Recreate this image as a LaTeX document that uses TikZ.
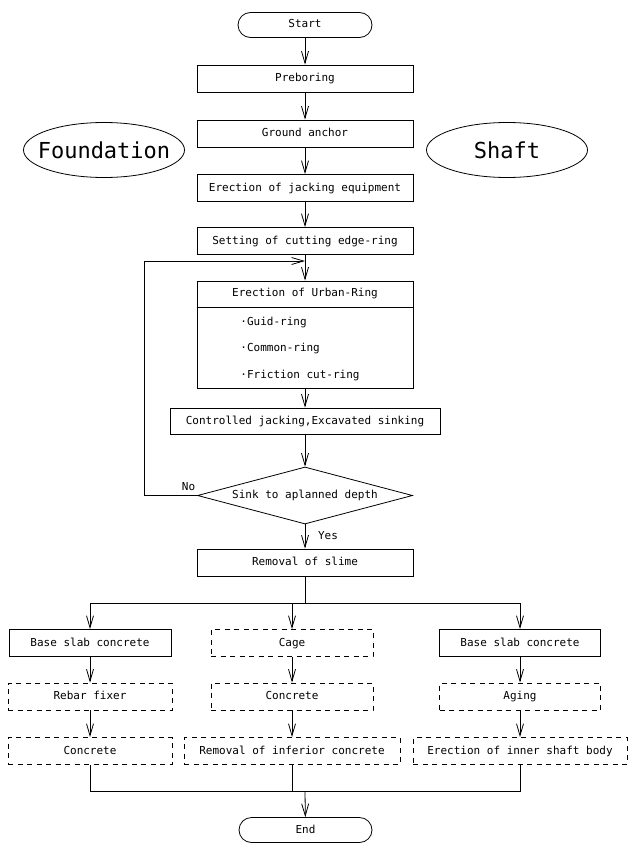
\documentclass[tikz,border=0pt]{standalone}
\usepackage{fontspec}
\setmainfont{DejaVu Sans Mono}
\usetikzlibrary{shapes.geometric,arrows.meta}
\begin{document}
\begin{tikzpicture}[x=1pt,y=-1pt, font=\fontsize{11}{13}\selectfont, line width=0.8pt,
 box/.style={draw, rectangle, minimum height=27pt, inner sep=0pt, text height=8pt, text depth=2pt},
 dbox/.style={box, dash pattern=on 5pt off 4.5pt},
 term/.style={draw, rectangle, rounded corners=12.5pt, minimum width=134pt, minimum height=25pt, inner sep=0pt, text height=8pt, text depth=2pt},
 arr/.style={-{Straight Barb[length=12pt,width=7pt]}},
 oval/.style={draw, ellipse, minimum width=161pt, minimum height=55pt, inner sep=0pt, font=\fontsize{22}{26}\selectfont},
 lbl/.style={inner sep=0pt}]
\useasboundingbox (0,0) rectangle (628,843);
% main column
\node[term] (start) at (305,25) {Start};
\node[box, minimum width=216pt] (pre) at (305,78.5) {Preboring};
\node[box, minimum width=216pt] (ga) at (305,133.5) {Ground anchor};
\node[box, minimum width=216pt] (ej) at (305,188) {Erection of jacking equipment};
\node[box, minimum width=216pt] (sc) at (305,241) {Setting of cutting edge-ring};
\node[draw, rectangle, minimum width=216pt, minimum height=107pt, inner sep=0pt] (ur) at (305,334.5) {};
\node[lbl] (urt) at (305,294) {Erection of Urban-Ring};
\draw (ur.west |- 0,307) -- (ur.east |- 0,307);
\node[lbl, anchor=west] (i1) at (240,322) {·Guid-ring};
\node[lbl, anchor=west] (i2) at (240,348) {·Common-ring};
\node[lbl, anchor=west] (i3) at (240,375) {·Friction cut-ring};
\node[box, minimum width=270pt, minimum height=26pt] (cj) at (305,421) {Controlled jacking,Excavated sinking};
\node[draw, diamond, aspect=3.77, minimum width=215pt, minimum height=57pt, inner sep=0pt] (dia) at (305,495.5) {Sink to aplanned depth};
\node[lbl] (no) at (188.5,487) {No};
\node[lbl] (yes) at (328,536) {Yes};
\node[box, minimum width=216pt] (rem) at (305,562.5) {Removal of slime};
% side ovals
\node[oval] (fo) at (104,150) {\makebox[0pt]{Foundation}};
\node[oval] (sh) at (507,150) {\makebox[0pt]{Shaft}};
% branches
\node[box, minimum width=162pt] (L1) at (90,643) {Base slab concrete};
\node[dbox, minimum width=162pt] (C1) at (292,643) {Cage};
\node[box, minimum width=161pt] (R1) at (520,643) {Base slab concrete};
\node[dbox, minimum width=164pt] (L2) at (90,696.5) {Rebar fixer};
\node[dbox, minimum width=162pt] (C2) at (292,696.5) {Concrete};
\node[dbox, minimum width=161pt] (R2) at (520,696.5) {Aging};
\node[dbox, minimum width=164pt] (L3) at (90,751) {Concrete};
\node[dbox, minimum width=216pt] (C3) at (292,751) {Removal of inferior concrete};
\node[dbox, minimum width=214pt] (R3) at (520,751) {Erection of inner shaft body};
\node[term, minimum width=133pt] (end) at (305.5,830) {End};
% coordinates
\coordinate (lp) at (305,261);
\coordinate (lc) at (144,261);
\coordinate (b0) at (305,603);
\coordinate (bL) at (90,603);
\coordinate (bC) at (292,603);
\coordinate (bR) at (520,603);
\coordinate (mL) at (90,791);
\coordinate (mC) at (292,791);
\coordinate (mR) at (520,791);
\coordinate (m0) at (305,791);
% connectors
\draw[arr] (start) -- (pre);
\draw[arr] (pre) -- (ga);
\draw[arr] (ga) -- (ej);
\draw[arr] (ej) -- (sc);
\draw[arr] (sc) -- (ur);
\draw[arr] (dia.west) -| (lc) -- (lp);
\draw[arr] (ur) -- (cj);
\draw[arr] (cj) -- (dia);
\draw[arr] (dia) -- (rem);
\draw (rem) -- (b0);
\draw (bL) -- (bR);
\draw[arr] (bL) -- (L1);
\draw[arr] (bC) -- (C1);
\draw[arr] (bR) -- (R1);
\draw[arr] (L1) -- (L2);
\draw[arr] (C1) -- (C2);
\draw[arr] (R1) -- (R2);
\draw[arr] (L2) -- (L3);
\draw[arr] (C2) -- (C3);
\draw[arr] (R2) -- (R3);
\draw (L3) -- (mL) -- (mR) -- (R3);
\draw (C3) -- (mC);
\draw[arr] (m0) -- (end);
\end{tikzpicture}
\end{document}
